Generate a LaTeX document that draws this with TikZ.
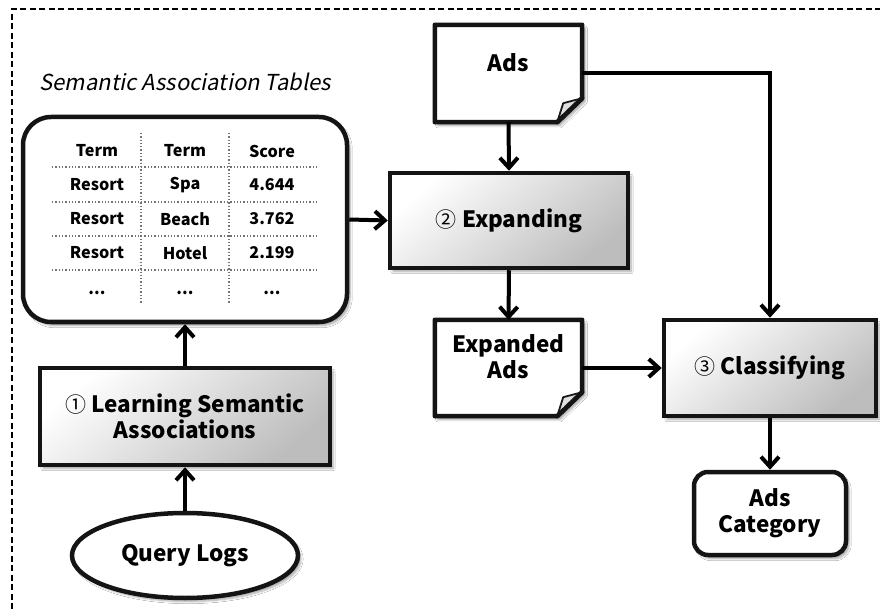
\documentclass[tikz,border=0pt]{standalone}
\usepackage{fontspec}
\setmainfont{Noto Sans CJK KR}
\newfontfamily\slantfont{Noto Sans CJK KR}[FakeSlant=0.2]
\usetikzlibrary{arrows.meta,shapes.geometric,shadows.blur,positioning}

\tikzset{
  outline/.style={draw=black!92, line width=4.5pt},
  shadowed/.style={blur shadow={shadow xshift=3pt, shadow yshift=-3.5pt, shadow blur steps=6, shadow opacity=35}},
  process/.style={outline, shadowed, shading=axis, top color=white, bottom color=black!26, shading angle=40,
    font=\bfseries\fontsize{22.5}{26}\selectfont, align=center, inner sep=0pt},
  terminal/.style={outline, shadowed, fill=white, font=\bfseries\fontsize{22.5}{26}\selectfont, align=center, inner sep=0pt},
  docbox/.style={inner sep=0pt, font=\bfseries\fontsize{22.5}{26}\selectfont, align=center},
  cell/.style={font=\bfseries\fontsize{16.2}{18}\selectfont, inner sep=0pt},
  conn/.style={line width=4pt, draw=black, -{Straight Barb[length=10pt,width=18pt,line width=4pt]}},
  gridline/.style={draw=black!55, line width=1.3pt, dotted},
}

% circled step number, set in a lighter weight
\newcommand\circnum[1]{{\mdseries\fontsize{21}{26}\selectfont #1}}

% document outline with a curled lower-right corner
\newcommand\docshape[1]{%
  \path[outline, shadowed, fill=white, line join=round]
    (#1.north west) -- (#1.north east) -- ([yshift=24pt]#1.south east)
    -- ([xshift=-25pt]#1.south east) -- (#1.south west) -- cycle;
  \path[draw=black!90, line width=1.8pt, fill=black!12, line join=round]
    ([yshift=24pt]#1.south east) -- ([xshift=-19pt,yshift=19pt]#1.south east)
    -- ([xshift=-25pt]#1.south east) -- cycle;
  \path[draw=black!92, line width=4.5pt, line cap=round]
    ([yshift=24pt]#1.south east) -- ([xshift=-25pt]#1.south east);
}

\begin{document}
\begin{tikzpicture}[x=1pt, y=-1pt]
\useasboundingbox (0,0) rectangle (880,609);
\fill[white] (0,0) rectangle (880,609);

% dashed outer frame (continues past the right and bottom edges)
\draw[line width=2pt, dash pattern=on 6pt off 3.5pt] (900,9) -- (12,9) -- (12,630);

% caption of the table
\node[font=\slantfont\fontsize{22}{26}\selectfont, anchor=west] (caption) at (36,82) {Semantic Association Tables};

% semantic association table
\node[outline, shadowed, fill=white, rounded corners=28pt, minimum width=324pt, minimum height=205pt] (table) at (185,219.5) {};
\draw[gridline] (141,133) -- (141,303);
\draw[gridline] (229,133) -- (229,303);
\foreach \yy in {167,202,236,270} \draw[gridline] (52,\yy) -- (318,\yy);
\node[cell] (h1) at (97,151) {Term};
\node[cell] (h2) at (185,151) {Term};
\node[cell] (h3) at (272,151) {Score};
\node[cell] (r11) at (97,185) {Resort};
\node[cell] (r12) at (185,185) {Spa};
\node[cell] (r13) at (272,185) {4.644};
\node[cell] (r21) at (97,219) {Resort};
\node[cell] (r22) at (185,219) {Beach};
\node[cell] (r23) at (272,219) {3.762};
\node[cell] (r31) at (97,253) {Resort};
\node[cell] (r32) at (185,253) {Hotel};
\node[cell] (r33) at (272,253) {2.199};
\node[cell] (d1) at (97,293) {...};
\node[cell] (d2) at (185,293) {...};
\node[cell] (d3) at (272,293) {...};

% step 1
\node[process, minimum width=290pt, minimum height=97pt] (learn) at (185,416.5) {\circnum{①} Learning Semantic\\Associations};
\node[terminal, ellipse, minimum width=226pt, minimum height=85pt] (logs) at (185,555.5) {Query Logs};

% ads document
\node[docbox, minimum width=147pt, minimum height=97pt] (ads) at (508.5,73.5) {};
\docshape{ads}
\node[docbox] (adstext) at (508.5,63) {Ads};

% step 2
\node[process, minimum width=238pt, minimum height=95pt] (expand) at (509,220.5) {\circnum{②} Expanding};

% expanded ads document
\node[docbox, minimum width=147pt, minimum height=96pt] (xads) at (508.5,368) {};
\docshape{xads}
\node[docbox] (xadstext) at (508.5,356.5) {Expanded\\Ads};

% step 3
\node[process, minimum width=212pt, minimum height=96pt] (classify) at (770,368) {\circnum{③} Classifying};
\node[terminal, rounded corners=14pt, minimum width=152pt, minimum height=83pt] (cat) at (770,513.5) {Ads\\Category};

% connectors
\draw[conn] (logs.north) -- (learn.south);
\draw[conn] (learn.north) -- (table.south);
\draw[conn] (table.east) -- (expand.west);
\draw[conn] (ads.south) -- (expand.north);
\draw[conn] (ads.east) -| (classify.north);
\draw[conn] (expand.south) -- (xads.north);
\draw[conn] (xads.east) -- (classify.west);
\draw[conn] (classify.south) -- (cat.north);
\end{tikzpicture}
\end{document}
